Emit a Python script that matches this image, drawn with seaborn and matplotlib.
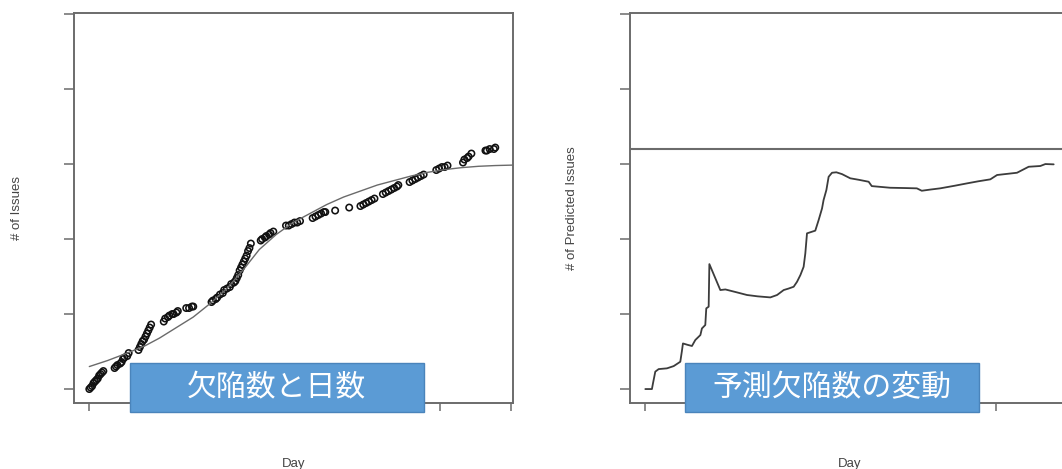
import matplotlib
matplotlib.use("Agg")
import matplotlib.pyplot as plt
from matplotlib.patches import Rectangle
import pandas as pd
import seaborn as sns

# Cumulative issues observed per day
issue_days = [0, 1, 2, 3, 4, 5, 6, 7, 8, 9, 10,
              18, 19, 20, 22, 23, 24, 25, 27, 28,
              35, 36, 37, 38, 39, 40, 41, 42, 43, 44,
              53, 54, 56, 57, 59, 60, 62, 63,
              69, 71, 73, 74,
              87, 88, 90, 91, 93, 95, 96, 98, 100, 101, 103, 104,
              105, 106, 107, 108, 109, 110, 111, 112, 113, 114, 115,
              122, 123, 125, 126, 128, 129, 131,
              140, 142, 144, 146, 148, 150,
              159, 161, 163, 165, 167, 168,
              175, 185,
              193, 195, 197, 199, 201, 203,
              209, 211, 213, 215, 217, 219, 220,
              228, 230, 232, 234, 236, 238,
              247, 249, 251, 253, 255,
              266, 267, 269, 270, 272,
              282, 283, 285, 288, 289]
issue_counts = [0, 1, 2, 4, 5, 6, 7, 9, 10, 11, 12,
                14, 15, 16, 17, 18, 20, 21, 22, 24,
                26, 28, 30, 32, 33, 35, 37, 39, 41, 43,
                45, 47, 48, 49, 50, 50, 51, 52,
                54, 54, 55, 55,
                58, 59, 60, 61, 63, 64, 66, 67, 68, 70, 71, 72,
                74, 76, 79, 81, 83, 85, 87, 89, 92, 94, 97,
                99, 100, 101, 102, 103, 104, 105,
                109, 109, 110, 111, 111, 112,
                114, 115, 116, 117, 118, 118,
                119, 121,
                122, 123, 124, 125, 126, 127,
                130, 131, 132, 133, 134, 135, 136,
                138, 139, 140, 141, 142, 143,
                146, 147, 148, 148, 149,
                151, 153, 154, 155, 157,
                159, 159, 160, 160, 161]

# Growth-curve fit through the observed counts
fit_days = [0, 13, 27, 40, 50, 62, 74, 86, 98, 110, 121, 133, 145, 157,
            169, 181, 193, 205, 217, 229, 241, 253, 265, 277, 289, 301.4]
fit_counts = [15, 19, 24, 29, 34, 41, 48, 57, 67, 80, 93, 103, 111, 117,
              123, 128, 132, 136, 139, 142, 144.5, 146.3, 147.6, 148.5, 149, 149.3]

# Predicted total issues re-estimated each day
pred_days = [0, 4.7, 5.5, 7.1, 9.5, 15.4, 20.2, 24.9, 26.0, 26.8, 30, 33.2,
             35.6, 39.2, 40.3, 42.7, 43.4, 45.1, 45.6, 53.4, 57, 65, 72.4, 80,
             89, 93.8, 98.5, 102, 105.6, 108, 110.4, 112.7, 113.9, 115.1, 121,
             123.4, 125.8, 126.9, 128.9, 130.5, 132.9, 136, 140, 145.9, 152,
             159, 161.2, 174.3, 185, 193.3, 196.8, 203, 209.9, 220, 228.9, 237,
             245.6, 250.4, 258, 264.6, 272.9, 281.2, 284.8, 290.7]
pred_counts = [0, 0, 4, 11.6, 13.3, 13.8, 15.3, 18.2, 25, 30.4, 29.5, 28.7,
               32.7, 36, 40.4, 42.7, 53.8, 54.9, 83.3, 66, 66.4, 64.5, 62.7, 61.8,
               61.1, 62.7, 66, 67, 68.2, 71.5, 76, 81.5, 90.4, 103.8, 105.6,
               112.7, 120.4, 126, 132.7, 141.5, 144.2, 144.5, 143.3, 140.5, 139.5,
               138.2, 135.3, 134.2, 134, 133.8, 132.2, 133, 133.8, 135.5, 137.1, 138.5,
               139.8, 142.7, 143.5, 144.2, 148.2, 148.7, 150, 149.8]
target_level = 160

day_ticks = [0, 50, 100, 150, 200, 250, 300]
count_ticks = [0, 50, 100, 150, 200, 250]
panel_titles = ["欠陥数と日数", "予測欠陥数の変動"]
y_labels = ["# of Issues", "# of Predicted Issues"]

sns.set_theme(style="white")
plt.rcParams["font.family"] = ["Liberation Sans", "DejaVu Sans"]

W, H = 1062, 469
fig = plt.figure(figsize=(W / 100, H / 100), dpi=100)
fig.patch.set_facecolor("white")

frame_color = "#6b6b6b"
label_color = "#444444"
ax_w, ax_h = 438.7, 390.0
ax_top = 13.3
axes = []
for left_px in (74, 630):
    ax = fig.add_axes([left_px / W, (H - ax_top - ax_h) / H, ax_w / W, ax_h / H])
    axes.append(ax)

issues = pd.DataFrame({"day": issue_days, "issues": issue_counts})
fit = pd.DataFrame({"day": fit_days, "issues": fit_counts})
pred = pd.DataFrame({"day": pred_days, "predicted": pred_counts})

ax1, ax2 = axes
sns.lineplot(data=fit, x="day", y="issues", ax=ax1, color="#6a6a6a",
             linewidth=1.0, sort=False, estimator=None)
sns.scatterplot(data=issues, x="day", y="issues", ax=ax1, marker="o",
                s=21, facecolor="none", edgecolor="#111111", linewidth=1.15)

sns.lineplot(data=pred, x="day", y="predicted", ax=ax2, color="#3c3c3c",
             linewidth=1.3, sort=False, estimator=None)
ax2.axhline(target_level, color=frame_color, linewidth=1.5)

for ax, ylab in zip(axes, y_labels):
    ax.set_xlim(-10.9, 301.4)
    ax.set_ylim(-9.5, 250.5)
    ax.set_xticks(day_ticks)
    ax.set_yticks(count_ticks)
    ax.tick_params(axis="both", which="both", direction="out", labelbottom=False,
                   labelleft=False, color=frame_color, width=1.1, bottom=True, left=True)
    ax.tick_params(axis="y", length=7.5)
    ax.tick_params(axis="x", length=5.8)
    for sp in ax.spines.values():
        sp.set_visible(True)
        sp.set_color(frame_color)
        sp.set_linewidth(1.4)
    ax.set_xlabel("Day", fontsize=9.5, color=label_color)
    ax.set_ylabel(ylab, fontsize=9.5, color=label_color)
    ax.xaxis.set_label_coords(0.5, -0.140)
    ax.grid(False)

ax1.yaxis.set_label_coords(-0.116, 0.5)
ax2.yaxis.set_label_coords(-0.1185, 0.5)

# Caption boxes across the bottom of each panel
box_y0, box_y1 = 363, 412
for (x0, x1), title in zip([(130, 423.5), (685, 979)], panel_titles):
    rect = Rectangle((x0 / W, (H - box_y1) / H), (x1 - x0) / W, (box_y1 - box_y0) / H,
                     transform=fig.transFigure, facecolor="#5b9bd5",
                     edgecolor="#4a84bb", linewidth=1.0, zorder=10)
    fig.add_artist(rect)
    fig.text((x0 + x1) / 2 / W, (H - (box_y0 + box_y1) / 2) / H, title,
             ha="center", va="center", color="white", fontsize=21.5,
             family=["Noto Sans CJK JP", "DejaVu Sans"], zorder=11)

fig.savefig("out.png", dpi=100, facecolor="white")
